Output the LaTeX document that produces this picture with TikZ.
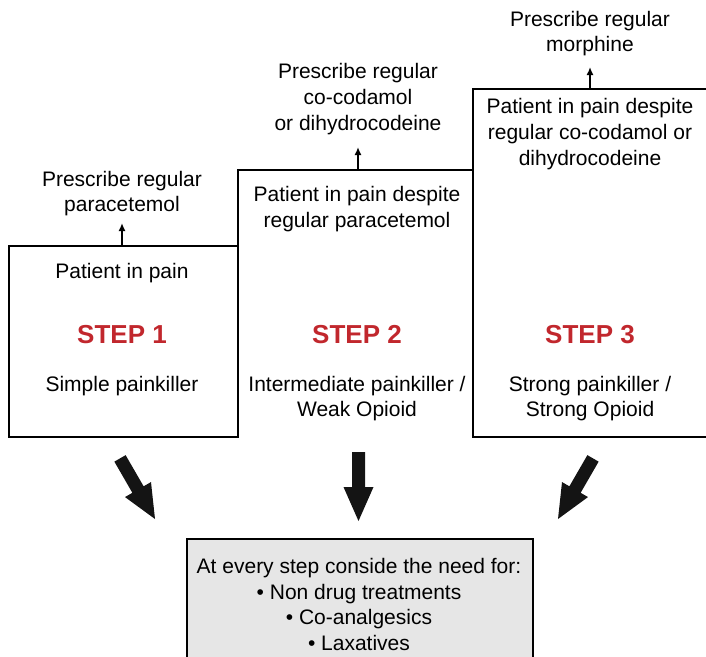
\documentclass[tikz,border=0pt]{standalone}
\usepackage{fontspec}
\setmainfont{Liberation Sans}
\definecolor{stepred}{HTML}{C1272D}
\definecolor{notegray}{HTML}{E6E6E6}
\tikzset{
  box/.style={line width=2.4pt, draw=black},
  txt/.style={align=center, font=\fontsize{21}{25.7}\selectfont, inner sep=0pt},
  steplabel/.style={font=\fontsize{26}{30}\selectfont\bfseries, text=stepred, inner sep=0pt},
  up/.style={-{Latex[length=8pt,width=7pt]}, line width=1.6pt},
  bigarrow/.style={fill=black!92, draw=none},
}
\usetikzlibrary{arrows.meta}
\begin{document}
\begin{tikzpicture}[x=1pt,y=-1pt]
\useasboundingbox (0,0) rectangle (706,656);
\clip (0,0) rectangle (706,656);
% boxes
\draw[box] (9,437) -- (9,246) -- (238,246) -- (238,437) -- cycle;
\draw[box] (238,437) -- (238,170) -- (473,170) -- (473,437);
\draw[box] (710,89) -- (473,89) -- (473,437) -- (710,437);
\coordinate (b1) at (122,246);
\coordinate (b2) at (358,170);
\coordinate (b3) at (590,89);
% box texts
\node[txt] at (122,273) {Patient in pain};
\node[steplabel] at (122,335) {STEP 1};
\node[txt] at (122,386) {Simple painkiller};
\node[txt] at (357,209) {Patient in pain despite\\regular paracetemol};
\node[steplabel] at (357,335) {STEP 2};
\node[txt] at (357,398.5) {Intermediate painkiller /\\Weak Opioid};
\node[txt] at (590,134) {Patient in pain despite\\regular co-codamol or\\dihydrocodeine};
\node[steplabel] at (590,335) {STEP 3};
\node[txt] at (590,398.5) {Strong painkiller /\\Strong Opioid};
% prescribe labels
\node[txt] (p1) at (122,193.5) {Prescribe regular\\paracetemol};
\node[txt] (p2) at (358,99) {Prescribe regular\\co-codamol\\or dihydrocodeine};
\node[txt] (p3) at (590,33.5) {Prescribe regular\\morphine};
\draw[up] (b1) -- (122,223);
\draw[up] (b2) -- (358,147);
\draw[up] (b3) -- (590,67);
% bottom box
\node[draw=black, line width=2.2pt, fill=notegray, minimum width=346pt, minimum height=140pt, anchor=north west] (note) at (186,538) {};
\node[txt, align=center] at (359,604.5) {At every step conside the need for:\\\textbullet\ Non drug treatments\\\textbullet\ Co-analgesics\\\textbullet\ Laxatives};
% big arrows
\begin{scope}[shift={(358.5,521)}]
  \fill[bigarrow] (0,0) -- (-15,-34) -- (-6.5,-34) -- (-6.5,-69) -- (6.5,-69) -- (6.5,-34) -- (15,-34) -- cycle;
\end{scope}
\begin{scope}[shift={(155,519)},rotate=30]
  \fill[bigarrow] (0,0) -- (-15,-34) -- (-6.5,-34) -- (-6.5,-70) -- (6.5,-70) -- (6.5,-34) -- (15,-34) -- cycle;
\end{scope}
\begin{scope}[shift={(558,519)},rotate=-30]
  \fill[bigarrow] (0,0) -- (-15,-34) -- (-6.5,-34) -- (-6.5,-70) -- (6.5,-70) -- (6.5,-34) -- (15,-34) -- cycle;
\end{scope}
\end{tikzpicture}
\end{document}
